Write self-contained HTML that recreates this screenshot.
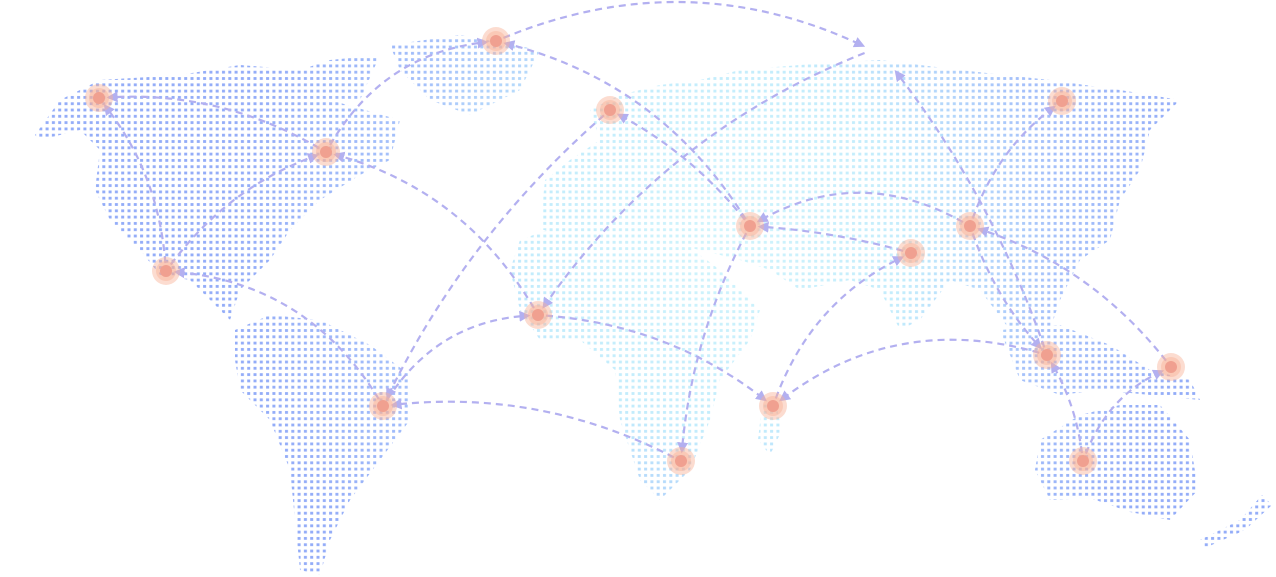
<!DOCTYPE html>
<html><head><meta charset="utf-8"><style>
html,body{margin:0;padding:0;background:#fff;width:1276px;height:577px;overflow:hidden;font-family:"Liberation Sans",sans-serif}
</style></head><body>
<svg id="map" width="1276" height="577" viewBox="0 0 1276 577" xmlns="http://www.w3.org/2000/svg">
<defs>
<pattern id="dots" width="6.3" height="6.3" patternUnits="userSpaceOnUse">
<rect x="1.5" y="1.5" width="3" height="2.8" fill="#fff"/>
</pattern>
<mask id="dotmask"><rect width="1276" height="577" fill="url(#dots)"/></mask>
<radialGradient id="landgrad" gradientUnits="userSpaceOnUse" cx="720" cy="240" r="480">
<stop offset="0" stop-color="#d0f4fc"/><stop offset="0.4" stop-color="#c2ecfc"/><stop offset="0.7" stop-color="#a4c0fa"/><stop offset="1" stop-color="#93acf8"/>
</radialGradient>
<marker id="arrow" viewBox="0 0 10 10" refX="6" refY="5" markerWidth="5" markerHeight="5" orient="auto" markerUnits="strokeWidth">
<path d="M0,0 L10,5 L0,10 Z" fill="#b3b0f0"/>
</marker>
</defs>
<g id="land" mask="url(#dotmask)" fill="url(#landgrad)">
<polygon points="35,135 60,100 100,80 180,75 240,65 300,70 330,60 380,55 360,100 330,100 400,120 390,160 360,175 320,200 290,230 270,260 240,290 230,320 210,300 190,280 160,275 140,250 110,220 95,190 100,150 80,130 40,140"/>
<polygon points="390,45 460,35 540,50 520,90 470,115 430,100 400,70"/>
<polygon points="235,330 270,315 320,320 370,345 410,375 410,420 380,460 350,500 330,540 320,575 300,570 295,520 290,470 270,420 240,390 235,360"/>
<polygon points="540,230 545,180 570,160 600,140 590,110 620,95 660,85 700,80 740,70 800,65 880,60 960,70 1050,80 1120,90 1180,100 1150,130 1140,170 1120,200 1110,240 1080,260 1060,300 1050,330 1010,330 980,290 950,280 920,320 900,330 880,290 850,280 800,290 770,270 740,260 700,250 650,240 600,230"/>
<polygon points="520,240 560,225 620,230 680,240 720,270 760,310 750,340 720,380 710,420 690,470 660,500 640,480 620,420 615,370 580,340 540,340 520,310 510,270"/>
<polygon points="762,405 775,400 782,430 770,455 758,440"/>
<polygon points="1000,330 1060,325 1110,345 1150,370 1190,380 1200,400 1150,395 1100,390 1060,395 1020,380"/>
<polygon points="1040,440 1080,415 1120,405 1160,405 1190,440 1198,490 1170,520 1130,512 1090,498 1050,500 1035,470"/>
<polygon points="1200,540 1240,520 1262,495 1272,505 1245,530 1205,548"/>
</g>
<g id="routes"></g>
<g id="cities"></g>
</svg>
<script>
const cityNames=["alaska","toronto","mexico","greenland","scandinavia","middle-east","west-africa","brazil","south-africa","east-africa","india","china","ne-asia","se-asia","png","australia","north-russia","siberia"];
const cityX=[99,326,166,496,610,750,538,383,681,773,911,970,1062,1047,1171,1083,872,890];
const cityY=[98,152,271,41,110,226,315,406,461,406,253,226,101,355,367,461,50,64];
const routeFrom=[1,2,2,1,3,5,6,7,4,8,7,6,5,16,5,11,10,11,9,13,14,15,15,13,11];
const routeTo=[0,0,1,3,16,3,1,2,7,7,6,9,4,6,8,5,5,12,10,9,11,14,13,17,13];
const routeBend=[-0.15,-0.15,0.15,0.25,0.22,-0.2,-0.2,-0.25,-0.1,-0.15,0.25,0.15,-0.1,-0.15,-0.1,-0.28,-0.05,0.15,0.2,-0.25,-0.15,0.2,-0.1,-0.08,-0.1];
const rg=document.getElementById('routes');
const cg=document.getElementById('cities');
const NS='http://www.w3.org/2000/svg';
for(let i=0;i<routeFrom.length;i++){
  const x1=cityX[routeFrom[i]],y1=cityY[routeFrom[i]],x2=cityX[routeTo[i]],y2=cityY[routeTo[i]];
  const dx=x2-x1,dy=y2-y1;
  const cx=(x1+x2)/2+dy*routeBend[i], cy=(y1+y2)/2-dx*routeBend[i];
  let ex=x2-cx,ey=y2-cy;const L=Math.hypot(ex,ey)||1;
  const endX=x2-ex/L*12,endY=y2-ey/L*12;
  let sx=cx-x1,sy=cy-y1;const L2=Math.hypot(sx,sy)||1;
  const stX=x1+sx/L2*8,stY=y1+sy/L2*8;
  const p=document.createElementNS(NS,'path');
  p.setAttribute('d',`M${stX},${stY} Q${cx},${cy} ${endX},${endY}`);
  p.setAttribute('fill','none');p.setAttribute('stroke','#b3b0f0');
  p.setAttribute('stroke-width','2.2');p.setAttribute('stroke-dasharray','7 5');
  p.setAttribute('marker-end','url(#arrow)');
  
  
  rg.appendChild(p);
}
for(let i=0;i<16;i++){
  const g=document.createElementNS(NS,'g');
  
  
  const o=document.createElementNS(NS,'circle');
  o.setAttribute('cx',cityX[i]);o.setAttribute('cy',cityY[i]);o.setAttribute('r',14);
  o.setAttribute('fill','rgba(248,178,150,0.45)');
  const m=document.createElementNS(NS,'circle');
  m.setAttribute('cx',cityX[i]);m.setAttribute('cy',cityY[i]);m.setAttribute('r',10);
  m.setAttribute('fill','rgba(248,178,150,0.45)');
  const c=document.createElementNS(NS,'circle');
  c.setAttribute('cx',cityX[i]);c.setAttribute('cy',cityY[i]);c.setAttribute('r',6);
  c.setAttribute('fill','#f0a090');
  g.appendChild(o);g.appendChild(m);g.appendChild(c);cg.appendChild(g);
}
</script>
</body></html>
